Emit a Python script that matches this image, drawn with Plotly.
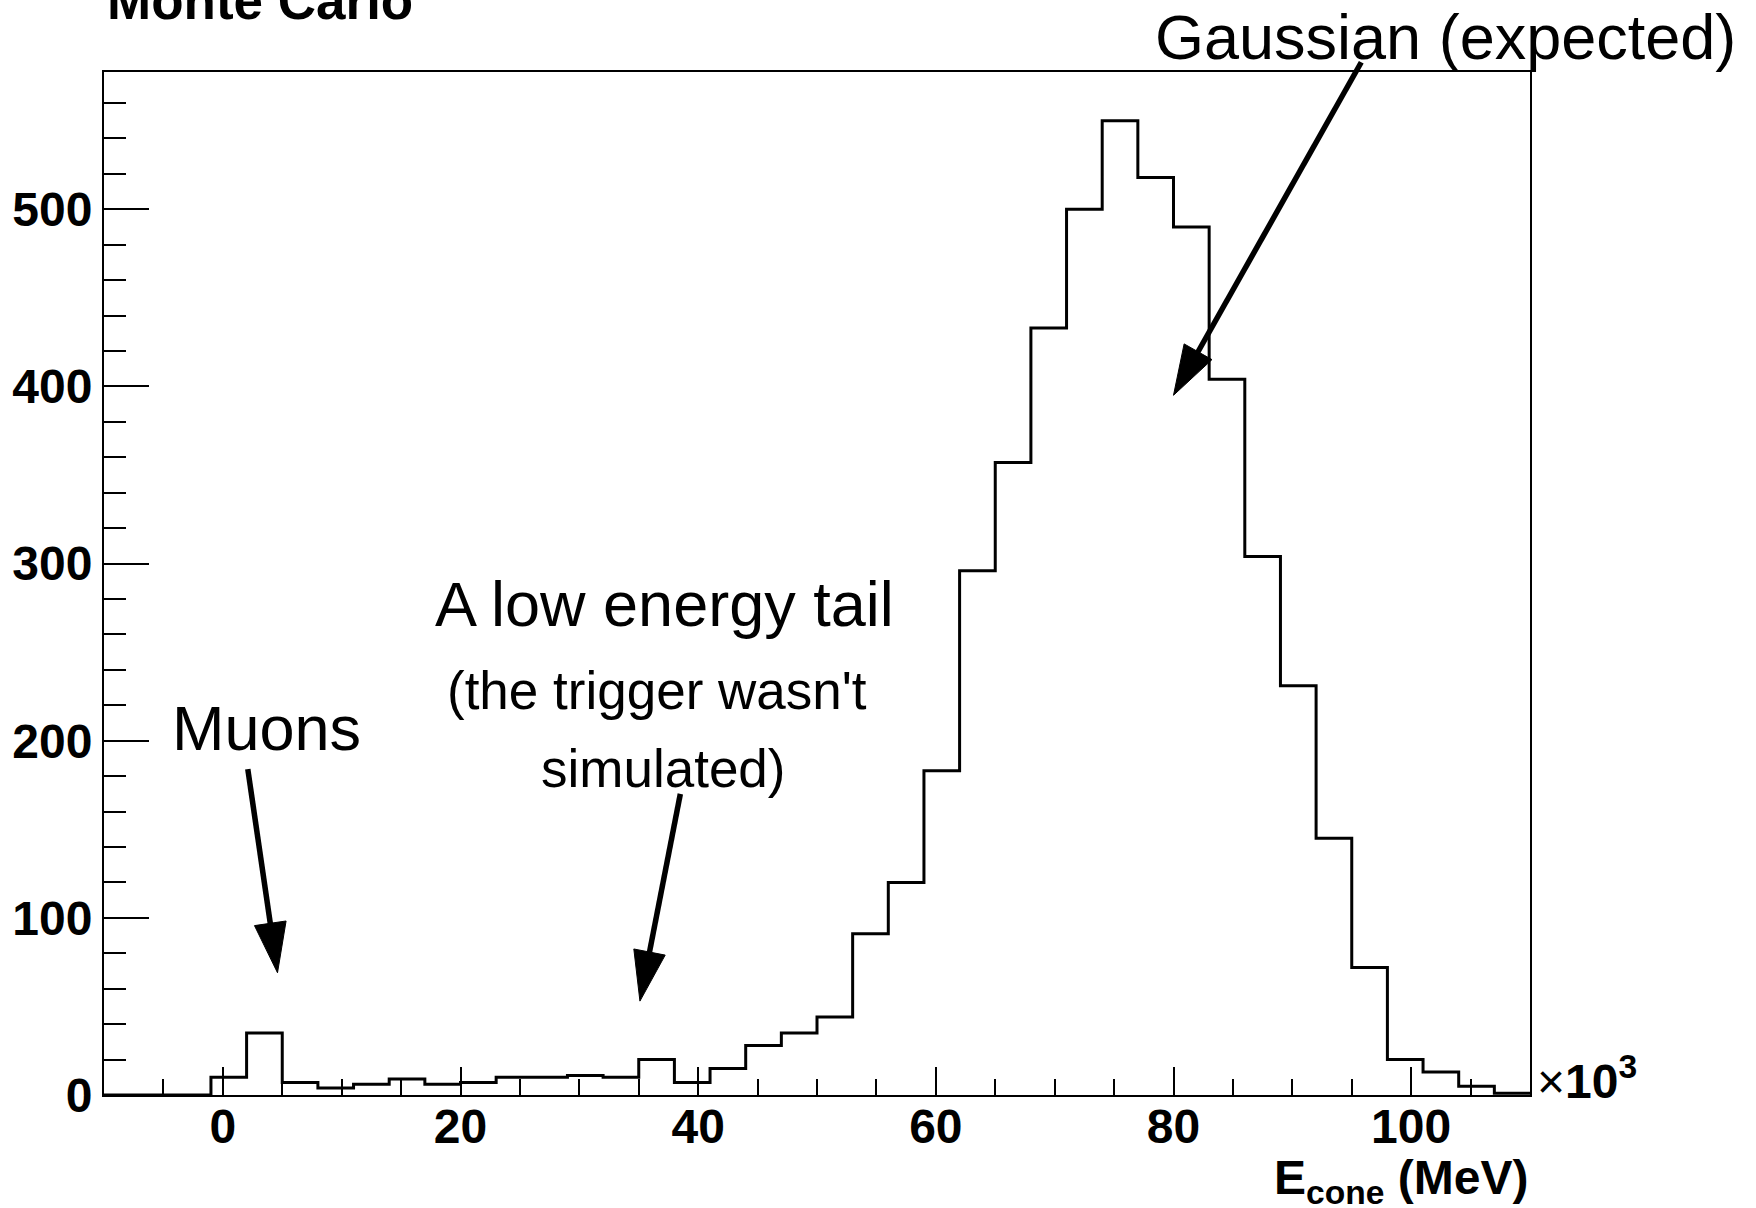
import math
import plotly.graph_objects as go

# ---------------- data ----------------
# histogram bin edges (x 10^3 MeV) and bin contents
BIN_EDGES = [-10, -7, -4, -1, 2, 5, 8, 11, 14, 17, 20, 23, 26, 29, 32, 35, 38, 41,
             44, 47, 50, 53, 56, 59, 62, 65, 68, 71, 74, 77, 80, 83, 86, 89, 92,
             95, 98, 101, 104, 107, 110]
COUNTS = [0, 0, 0, 10, 35, 7, 4, 6, 9, 6,
          7, 10, 10, 11, 10, 20, 7, 15, 28, 35,
          44, 91, 120, 183, 296, 357, 433, 500, 550, 518,
          490, 404, 304, 231, 145, 72, 20, 13, 5, 1]

X_TICKS = [0, 20, 40, 60, 80, 100]
Y_TICKS = [0, 100, 200, 300, 400, 500]
X_RANGE = [-10, 110]
Y_RANGE = [0, 577.5]

# arrows: (tail_x, tail_y, tip_x, tip_y) in data units
ARROWS = [
    (2.1, 184, 4.6, 69),      # Muons
    (38.5, 170, 35.1, 53),    # low energy tail
    (95.8, 583, 80.0, 395),   # Gaussian
]

# ---------------- layout geometry ----------------
W, H = 1756, 1208
L, T, R, B = 102, 72, 1530, 1095
FONT = "Liberation Sans, Arial, Helvetica, sans-serif"


def to_px(x, y):
    px = L + (x - X_RANGE[0]) / (X_RANGE[1] - X_RANGE[0]) * (R - L)
    py = B - (y - Y_RANGE[0]) / (Y_RANGE[1] - Y_RANGE[0]) * (B - T)
    return px, py


def px_to_paper(px, py):
    return (px - L) / (R - L), (B - py) / (B - T)


fig = go.Figure()

fig.add_trace(go.Scatter(
    x=BIN_EDGES,
    y=COUNTS + [COUNTS[-1]],
    mode="lines",
    line=dict(shape="hv", color="black", width=3),
    hoverinfo="skip",
    showlegend=False,
))

shapes = []
HEAD_LEN, HEAD_HALF = 50, 16
for tx, ty, hx, hy in ARROWS:
    p0 = to_px(tx, ty)
    p1 = to_px(hx, hy)
    dx, dy = p1[0] - p0[0], p1[1] - p0[1]
    n = math.hypot(dx, dy)
    ux, uy = dx / n, dy / n
    bx, by = p1[0] - ux * HEAD_LEN, p1[1] - uy * HEAD_LEN
    c1 = (bx - uy * HEAD_HALF, by + ux * HEAD_HALF)
    c2 = (bx + uy * HEAD_HALF, by - ux * HEAD_HALF)
    a = px_to_paper(*p0)
    b = px_to_paper(bx + ux * 4, by + uy * 4)
    shapes.append(dict(type="line", xref="paper", yref="paper",
                       x0=a[0], y0=a[1], x1=b[0], y1=b[1],
                       line=dict(color="black", width=5.5)))
    pts = [px_to_paper(*p1), px_to_paper(*c1), px_to_paper(*c2)]
    path = "M {:.5f},{:.5f} L {:.5f},{:.5f} L {:.5f},{:.5f} Z".format(
        pts[0][0], pts[0][1], pts[1][0], pts[1][1], pts[2][0], pts[2][1])
    shapes.append(dict(type="path", xref="paper", yref="paper", path=path,
                       fillcolor="black", line=dict(color="black", width=1)))


def text_ann(text, cx, cy, size, bold=False, xanchor="center", yanchor="middle"):
    x, y = px_to_paper(cx, cy)
    return dict(text=text, x=x, y=y, xref="paper", yref="paper",
                xanchor=xanchor, yanchor=yanchor, showarrow=False,
                font=dict(family=FONT, size=size, color="black",
                          weight="bold" if bold else "normal"))


annotations = [
    text_ann("Monte Carlo", 103, 0.5, 53, bold=True, xanchor="left"),
    text_ann("Gaussian (expected)", 1445, 37, 63),
    text_ann("Muons", 265, 728, 63),
    text_ann("A low energy tail", 663, 604, 63),
    text_ann("(the trigger wasn't", 656, 690, 53),
    text_ann("simulated)", 662, 768, 53),
    text_ann("E<sub>cone</sub> (MeV)", 1530, 1181, 48, bold=True, xanchor="right"),
    text_ann("<span style='font-weight:normal'>×</span>10<sup>3</sup>", 1535, 1078, 48,
             bold=True, xanchor="left"),
]

axis_common = dict(
    showline=True, linecolor="black", linewidth=2, mirror=True,
    showgrid=False, zeroline=False,
    ticks="inside", tickcolor="black", tickwidth=1.5,
    tickfont=dict(family=FONT, size=48, color="black", weight="bold"),
)

fig.update_layout(
    width=W, height=H,
    margin=dict(l=L, r=W - R, t=T, b=H - B, pad=0),
    paper_bgcolor="white", plot_bgcolor="white",
    xaxis=dict(range=X_RANGE, tickvals=X_TICKS, ticklen=28,
               ticklabelstandoff=-12,
               minor=dict(dtick=5, tick0=0, ticklen=16, ticks="inside",
                          tickcolor="black", tickwidth=1.5),
               **axis_common),
    yaxis=dict(range=Y_RANGE, tickvals=Y_TICKS, ticklen=45,
               minor=dict(dtick=20, tick0=0, ticklen=22, ticks="inside",
                          tickcolor="black", tickwidth=1.5),
               **axis_common),
    shapes=shapes,
    annotations=annotations,
    showlegend=False,
)

fig.write_html("out.html")
